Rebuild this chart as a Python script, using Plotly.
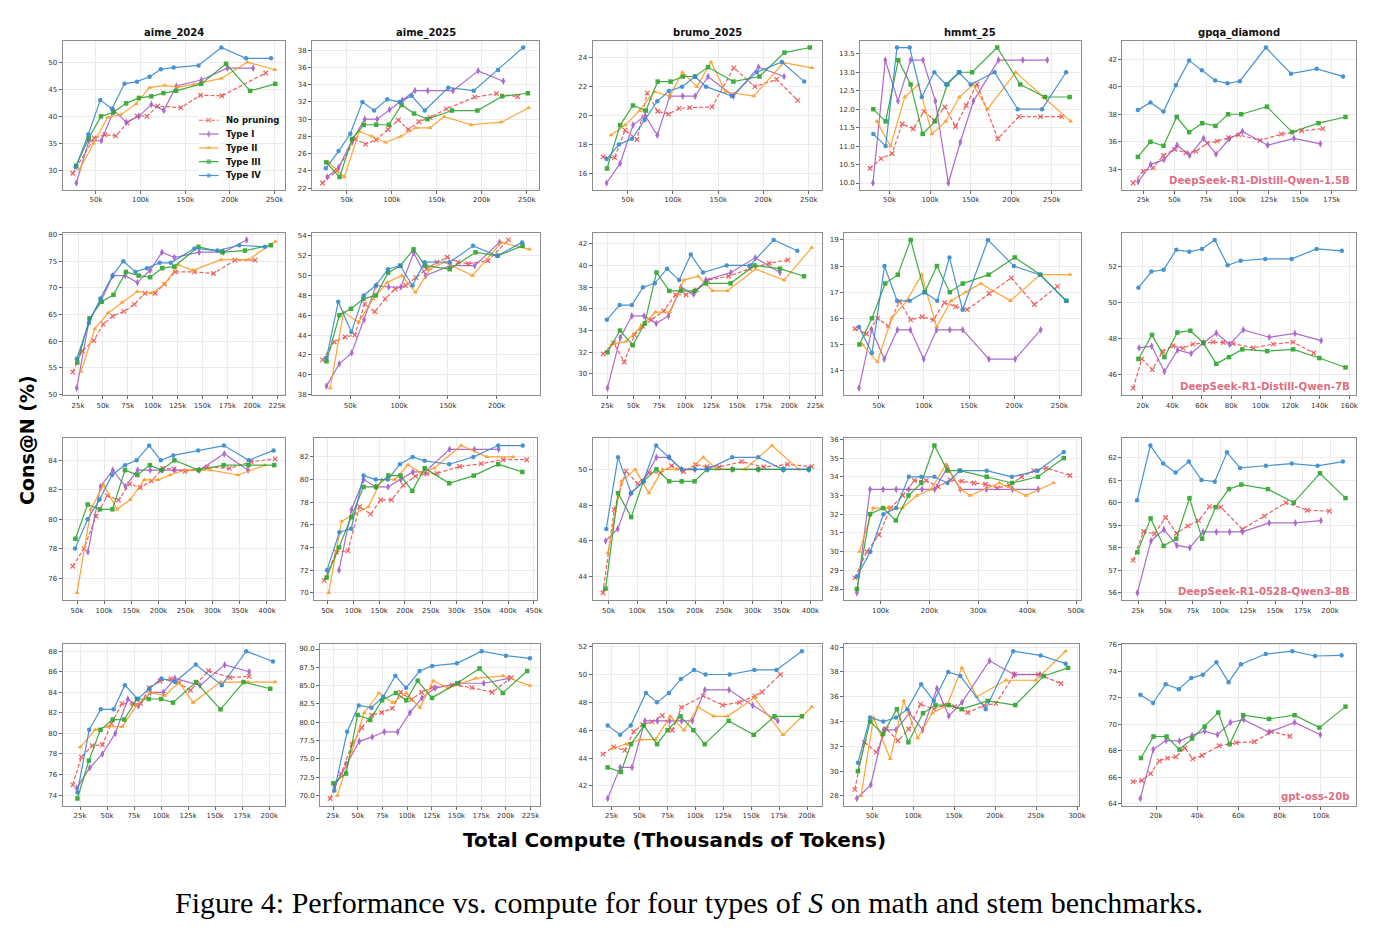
import plotly.graph_objects as go

SERIES = ["No pruning", "Type I", "Type II", "Type III", "Type IV"]
COLORS = {"No pruning": "#ef4f4f", "Type I": "#a45cc8", "Type II": "#ff9a1f",
          "Type III": "#2ca52c", "Type IV": "#3589cf"}
TITLES = ["aime_2024", "aime_2025", "brumo_2025", "hmmt_25", "gpqa_diamond"]
MODELS = ["DeepSeek-R1-Distill-Qwen-1.5B", "DeepSeek-R1-Distill-Qwen-7B",
          "DeepSeek-R1-0528-Qwen3-8B", "gpt-oss-20b"]

# ---------------- Row 1: DeepSeek-R1-Distill-Qwen-1.5B ----------------
R1_AIME24 = {
    "No pruning": ([24, 48, 60, 72, 85, 96, 107, 119, 145, 167, 191, 240],
                   [29.5, 36.0, 36.6, 36.4, 38.8, 40.1, 40.0, 41.9, 41.6, 43.9, 43.8, 48.0]),
    "Type I": ([28, 42, 56, 70, 84, 98, 112, 126, 140, 168, 197, 226],
               [27.7, 35.5, 35.5, 41.1, 38.9, 40.0, 42.2, 41.1, 45.6, 46.7, 48.9, 48.9]),
    "Type II": ([31.5, 47.4, 63, 77.8, 94.8, 110, 126.7, 141.5, 159.6, 190.4, 219.6, 250.4],
                [30.2, 35.0, 39.8, 40.3, 42.3, 45.3, 45.7, 45.4, 45.9, 47.0, 50.0, 48.6]),
    "Type III": ([27.8, 41.9, 55.6, 69.3, 83.7, 98.1, 111.9, 125.6, 139.6, 167.8, 195.6, 222.6, 250.7],
                 [30.9, 36.0, 40.0, 40.7, 42.4, 43.4, 43.7, 44.3, 44.7, 46.0, 49.7, 44.7, 46.0]),
    "Type IV": ([27.4, 41.5, 54.8, 67.8, 81.9, 95.9, 110, 122.6, 137, 164.8, 190.4, 218, 246],
                [30.6, 36.7, 43.0, 41.4, 46.0, 46.4, 47.3, 48.7, 49.0, 49.4, 52.7, 50.7, 50.7]),
}
R1_AIME25 = {
    "No pruning": ([22.8, 38.8, 59.3, 70.5, 82.5, 95.9, 107.1, 118.3, 130.2, 142.5, 160.8, 192.2, 216.4, 240],
                   [22.6, 24.0, 27.7, 27.1, 27.6, 28.8, 29.9, 28.8, 29.7, 30.2, 31.2, 32.55, 32.95, 32.6]),
    "Type I": ([28, 40.7, 55.6, 69.8, 83.6, 97.4, 111.6, 125.7, 139.9, 167.9, 195.9, 223.9],
               [23.3, 24.4, 27.5, 30.0, 30.0, 31.1, 32.2, 33.3, 33.3, 33.3, 35.6, 34.4]),
    "Type II": ([29.5, 47, 63.8, 78, 92.9, 109.7, 126.5, 142.2, 158.2, 188, 221.6, 252],
                [25.0, 23.3, 28.6, 28.0, 27.3, 28.0, 29.0, 29.0, 30.3, 29.35, 29.65, 31.3]),
    "Type III": ([26.9, 41.8, 55.6, 68.7, 82.5, 96.6, 110.8, 124.6, 139.5, 166.8, 195.1, 222.8, 251.1],
                 [25.0, 23.3, 27.7, 29.35, 29.35, 29.35, 31.65, 30.65, 30.0, 31.0, 31.0, 32.65, 33.0]),
    "Type IV": ([26.5, 40.7, 53.7, 67.2, 80.2, 94.8, 108.6, 122, 136.6, 162.7, 191, 218, 246],
                [24.3, 26.3, 28.3, 32.0, 31.0, 32.3, 32.0, 32.7, 31.0, 33.65, 33.3, 35.7, 38.3]),
}
R1_BRUMO = {
    "No pruning": ([22.7, 35.5, 47.1, 60.2, 71.5, 83.1, 95.1, 106.7, 118.4, 143.1, 167.1, 190.4, 214.5, 237.8],
                   [17.15, 17.1, 19.0, 18.35, 21.55, 20.3, 20.1, 20.5, 20.55, 20.6, 23.3, 22.0, 22.5, 21.05]),
    "Type I": ([26.7, 41.6, 55.8, 69.3, 82.7, 96.5, 110.7, 124.5, 138.7, 166.7, 194.4, 222.7],
               [15.35, 16.7, 19.35, 20.0, 18.65, 21.35, 21.35, 21.35, 22.7, 21.35, 23.35, 22.7]),
    "Type II": ([31.5, 47.1, 63.1, 79.5, 96.5, 110.4, 126.4, 142, 158, 189.3, 222, 253.3],
                [18.65, 19.35, 20.35, 21.65, 21.35, 23.0, 22.0, 23.7, 21.65, 21.35, 23.65, 23.3]),
    "Type III": ([27.1, 41.6, 55.8, 70, 83.1, 97.3, 111, 124.5, 138.7, 166.7, 195.5, 223.1, 251.1],
                 [16.35, 19.35, 20.7, 20.35, 22.35, 22.35, 22.7, 22.7, 23.35, 22.35, 22.7, 24.35, 24.7]),
    "Type IV": ([26.7, 40.2, 54.7, 68.5, 82.7, 95.5, 110, 124.2, 136.5, 164.9, 192.5, 220.2, 244.9],
                [17.0, 18.0, 18.4, 19.7, 21.0, 21.7, 22.0, 22.7, 22.0, 21.35, 23.0, 23.7, 22.35]),
}
R1_HMMT = {
    "No pruning": ([26, 39.6, 53.2, 65.6, 79.3, 92.5, 105.3, 118.2, 131.4, 144.6, 157.8, 183.5, 209.6, 236, 262.4],
                   [10.4, 10.66, 10.8, 11.6, 11.47, 11.94, 11.7, 12.06, 11.53, 12.1, 12.68, 11.2, 11.8, 11.8, 11.8]),
    "Type I": ([29.6, 44.8, 60.4, 76, 91.3, 106.5, 122.5, 137.3, 153.4, 184.3, 214.3, 244.4],
               [10.0, 13.33, 12.22, 13.33, 13.33, 12.22, 10.0, 11.11, 12.22, 13.33, 13.33, 13.33]),
    "Type II": ([34.4, 51.2, 68.8, 85.7, 102.4, 119.3, 136.1, 153, 170.6, 205.5, 239.6, 273.3],
                [11.67, 11.0, 12.33, 12.67, 11.33, 11.67, 12.33, 12.67, 12.0, 13.0, 12.33, 11.67]),
    "Type III": ([30, 45.2, 60.8, 76, 90.9, 106.1, 121.3, 136.1, 151.8, 182.7, 211.1, 241.6, 272],
                 [12.0, 11.67, 13.33, 12.67, 11.33, 11.67, 12.67, 13.0, 13.0, 13.67, 12.67, 12.33, 12.33]),
    "Type IV": ([30, 45.2, 59.2, 74.8, 89.7, 105.2, 119.7, 135.4, 150, 179.5, 208, 238, 267.6],
                [11.33, 11.0, 13.67, 13.67, 12.33, 13.0, 12.67, 13.0, 12.67, 13.0, 12.0, 12.0, 13.0]),
}
R1_GPQA = {
    "No pruning": ([17, 25, 33, 41, 50, 59, 67, 76, 84, 93, 101, 118, 135, 151, 168],
                   [33.0, 33.85, 34.1, 35.0, 35.45, 35.2, 35.3, 35.9, 36.05, 36.3, 36.5, 36.1, 36.55, 36.8, 36.95]),
    "Type I": ([21, 31, 41.5, 52, 62, 73, 83, 93.5, 104, 124, 145, 166],
               [33.1, 34.35, 34.7, 35.75, 35.0, 36.25, 35.1, 36.2, 36.75, 35.75, 36.25, 35.85]),
    "Type III": ([20.8, 30.8, 41.2, 51.7, 61.6, 72, 82.5, 92.6, 103, 123.5, 143.5, 164.5, 186],
                 [34.9, 36.0, 35.7, 37.8, 36.7, 37.35, 37.15, 38.0, 38.0, 38.55, 36.7, 37.35, 37.8]),
    "Type IV": ([20.8, 30.8, 41.2, 51, 61.6, 71.7, 82.3, 92.1, 101.9, 122.6, 142.6, 163.1, 184],
                [38.3, 38.85, 38.2, 40.1, 41.9, 41.2, 40.45, 40.25, 40.4, 42.85, 40.95, 41.3, 40.75]),
}

# ---------------- Row 2: DeepSeek-R1-Distill-Qwen-7B ----------------
R2_AIME24 = {
    "No pruning": ([19.7, 29.3, 40.8, 50.3, 59.9, 71.1, 81.6, 92.2, 102.4, 111.6, 122.5, 141.6, 161, 182.7, 202.8],
                   [54.2, 58.2, 60.1, 63.2, 64.7, 65.6, 66.9, 69.0, 69.0, 70.7, 73.0, 73.0, 72.7, 75.2, 75.2]),
    "Type I": ([23.7, 36.2, 48.4, 59.9, 72.4, 84.6, 97.4, 109.3, 121.8, 146.5, 170.9, 194.3],
               [51.2, 64.0, 67.7, 72.3, 72.3, 71.0, 73.3, 76.7, 75.7, 76.7, 76.7, 79.0]),
    "Type II": ([28, 41.8, 55.3, 69.2, 84.3, 98.8, 112, 125.8, 140.3, 168.6, 196, 223],
                [54.3, 62.3, 65.3, 67.3, 69.3, 69.0, 70.7, 74.3, 73.3, 75.3, 75.3, 78.7]),
    "Type III": ([24.3, 36.6, 48.7, 60.6, 73.1, 85.9, 97.4, 109.6, 121.5, 145.9, 169.9, 192.6, 218.6],
                 [56.0, 64.3, 67.4, 68.7, 73.0, 72.3, 72.0, 73.7, 74.0, 77.7, 76.7, 77.0, 78.0]),
    "Type IV": ([23.7, 35.9, 47.4, 59.6, 70.5, 82.7, 94.1, 106.9, 118.1, 141.9, 164.9, 187, 212.7],
                [56.7, 63.4, 68.0, 72.3, 75.0, 73.0, 73.7, 74.7, 74.7, 77.4, 77.0, 78.0, 77.7]),
}
R2_AIME25 = {
    "No pruning": ([21.5, 33.5, 44.8, 54.5, 64.8, 75.1, 85.7, 96, 106.7, 117.3, 128, 138.7, 149.3, 160.3, 170.9, 190.9, 212.2],
                   [41.5, 43.3, 43.8, 44.0, 47.15, 46.35, 47.65, 48.65, 49.0, 49.8, 50.65, 51.35, 51.85, 51.35, 51.2, 51.5, 53.6]),
    "Type I": ([25.6, 38.7, 51.4, 64.1, 76.5, 89.2, 101.9, 114.9, 127.3, 152.7, 177.5, 202.9],
               [38.85, 41.1, 42.2, 45.55, 49.0, 48.85, 48.85, 52.3, 50.0, 51.0, 51.0, 53.35]),
    "Type II": ([29.4, 43.1, 58.6, 73.4, 87.8, 102.7, 116.8, 131.6, 146.4, 175.3, 204.8, 233.7],
                [38.65, 46.3, 45.3, 47.65, 49.3, 50.0, 48.3, 50.65, 51.35, 50.0, 53.35, 52.65]),
    "Type III": ([25.6, 38.7, 50.7, 63.4, 76.1, 88.8, 101.4, 114.8, 126.8, 151.9, 178.4, 201, 226.5],
                 [41.35, 46.0, 46.65, 47.65, 48.0, 50.3, 51.0, 52.65, 51.0, 50.65, 52.35, 52.0, 53.0]),
    "Type IV": ([25.6, 37.6, 51, 63.7, 76.1, 88.5, 101, 113.7, 126.1, 151.9, 175.9, 200.7, 226.1],
                [41.7, 47.35, 44.3, 48.0, 49.0, 50.65, 51.0, 49.0, 51.35, 51.35, 53.0, 52.0, 53.35]),
}
R2_BRUMO = {
    "No pruning": ([21, 31.3, 41.4, 51.2, 59, 67.6, 79.3, 90.7, 100.8, 110.9, 121.3, 141.6, 161.8, 180.7, 198.4],
                   [31.85, 32.85, 31.1, 33.6, 34.4, 35.0, 35.8, 37.3, 37.3, 37.75, 38.65, 39.0, 39.7, 40.2, 40.5]),
    "Type I": ([25.3, 37.6, 48.7, 60.4, 72.1, 83.8, 95.8, 108.1, 119.8, 143.8, 167.2, 190.9],
               [28.7, 33.35, 35.35, 35.35, 34.65, 35.35, 38.0, 37.35, 38.65, 39.35, 40.7, 39.35]),
    "Type II": ([29.1, 43, 57.5, 71.4, 85, 98.6, 112.5, 126.4, 140.3, 167.4, 194.9, 221.5],
                [32.7, 33.0, 34.35, 35.7, 35.7, 38.65, 39.0, 37.65, 37.65, 39.65, 38.65, 41.65]),
    "Type III": ([25.3, 37.3, 49.6, 61, 72.4, 84.7, 96.1, 109, 119.8, 143.5, 166.5, 190.9, 214],
                 [32.0, 34.0, 32.65, 34.65, 39.35, 37.65, 37.65, 37.65, 38.35, 38.35, 40.0, 39.7, 39.0]),
    "Type IV": ([24.7, 37, 48.7, 59.4, 70.8, 82.5, 94.2, 105.3, 117, 139.7, 162.1, 184.9, 207.6],
                [35.0, 36.35, 36.35, 38.0, 38.35, 39.7, 38.65, 41.0, 39.35, 40.0, 40.0, 42.35, 41.35]),
}
R2_HMMT = {
    "No pruning": ([23.6, 36.4, 48.9, 60.5, 73, 85.4, 98.2, 110.5, 122.7, 135.1, 147.7, 172.2, 196.7, 222.2, 247.9],
                   [15.6, 15.4, 16.0, 15.7, 16.65, 15.94, 16.06, 15.94, 16.6, 16.45, 16.33, 16.95, 17.55, 16.53, 17.22]),
    "Type I": ([28.2, 42.2, 56.1, 70.7, 85.1, 99.8, 114.1, 128.7, 143, 172, 201, 229.3],
               [13.33, 15.56, 14.44, 15.56, 15.56, 14.44, 15.56, 15.56, 15.56, 14.44, 14.44, 15.56]),
    "Type II": ([31.9, 48.5, 64.3, 81, 97.5, 114, 130.2, 146.4, 163, 195.8, 228.9, 261.7],
                [15.0, 14.33, 16.0, 16.67, 17.67, 15.67, 16.67, 17.0, 17.33, 16.67, 17.67, 17.67]),
    "Type III": ([28.6, 42.5, 57.2, 71.1, 85.4, 100.9, 114.4, 128.7, 143, 171.6, 200.6, 228.9, 257.9],
                 [15.0, 16.0, 17.33, 17.67, 19.0, 17.0, 18.0, 17.0, 17.33, 17.67, 18.33, 17.67, 16.67]),
    "Type IV": ([28.2, 42.5, 56.4, 70.3, 84.3, 100.5, 114.8, 128.3, 142.8, 170.9, 199.6, 228.2, 257.2],
                [15.67, 14.67, 18.0, 16.67, 16.67, 17.0, 16.67, 18.33, 16.33, 19.0, 18.0, 17.67, 16.67]),
}
R2_GPQA = {
    "No pruning": ([13.5, 19.5, 26.5, 33.5, 40.5, 47.3, 54.1, 60.9, 67.7, 74.7, 81.2, 95, 108.5, 121.9, 135.9],
                   [45.26, 46.87, 46.28, 47.28, 47.6, 47.47, 47.69, 47.76, 47.8, 47.78, 47.72, 47.48, 47.69, 47.8, 47.2]),
    "Type I": ([17.5, 26.1, 34.7, 43.7, 52.8, 61.3, 69.9, 78.9, 88.2, 105.8, 123.2, 141],
               [47.48, 47.58, 46.17, 47.37, 47.17, 47.77, 48.3, 47.67, 48.48, 48.07, 48.28, 47.88]),
    "Type III": ([17.1, 26.3, 34.7, 43.5, 52.3, 61.1, 69.9, 78.5, 87.5, 104.4, 122, 139.8, 157.5],
                 [46.87, 48.2, 46.97, 48.33, 48.43, 47.76, 46.6, 46.97, 47.4, 47.3, 47.4, 46.92, 46.4]),
    "Type IV": ([17.1, 25.9, 34.2, 42.8, 51.6, 60.2, 68.8, 77.6, 86.4, 103.1, 121, 137.9, 155],
                [50.8, 51.7, 51.8, 52.9, 52.8, 52.95, 53.45, 52.05, 52.3, 52.4, 52.4, 52.95, 52.85]),
}

# ---------------- Row 3: DeepSeek-R1-0528-Qwen3-8B ----------------
R3_AIME24 = {
    "No pruning": ([42.1, 62.8, 84.8, 106.1, 126.2, 147, 166.5, 187.2, 208, 228.7, 248.8, 289.6, 330.5, 370.7, 415.2],
                   [76.8, 78.0, 80.2, 81.6, 81.3, 82.4, 82.15, 82.6, 83.45, 83.4, 83.25, 83.55, 83.45, 83.9, 84.1]),
    "Type I": ([70.1, 93.3, 115.9, 139, 161.6, 184.8, 206.7, 229.3, 275, 321.3, 365.2],
               [77.78, 82.22, 83.33, 82.22, 83.33, 83.33, 83.33, 83.33, 83.33, 84.44, 83.33]),
    "Type II": ([50, 75.6, 98.8, 123.8, 148.2, 173.8, 199.4, 221.3, 248.1, 296.3, 346.3, 396.3],
                [75.0, 80.67, 82.33, 80.67, 81.33, 82.67, 82.67, 83.0, 83.33, 83.33, 83.0, 83.67]),
    "Type III": ([47, 69.5, 92.1, 115.2, 138.4, 161, 184.1, 205.5, 229.3, 273.8, 320.1, 365.9, 413.4],
                 [78.67, 81.0, 80.67, 80.67, 83.33, 83.0, 83.67, 83.33, 84.0, 83.33, 83.67, 83.67, 83.67]),
    "Type IV": ([46.3, 69.5, 91.5, 114.6, 138.4, 159.8, 183, 204.3, 227.4, 273.2, 320.7, 366.5, 412.2],
                [78.0, 80.0, 81.33, 83.0, 83.67, 84.0, 85.0, 84.0, 84.33, 84.67, 85.0, 84.0, 84.67]),
}
R3_AIME25 = {
    "No pruning": ([43.5, 66.9, 89.1, 111.9, 133.4, 152.9, 173.8, 196.6, 220, 242.2, 262.4, 306, 348.4, 390.1, 436.3],
                   [71.1, 73.6, 73.7, 77.6, 76.95, 78.2, 78.2, 79.5, 80.3, 80.5, 80.55, 81.15, 81.4, 81.75, 81.75]),
    "Type I": ([72.1, 96.3, 119.7, 143.8, 167.3, 191.9, 215.4, 238.9, 286.5, 334.7, 381.6],
               [72.0, 77.35, 80.0, 79.35, 79.35, 80.0, 80.67, 80.67, 82.67, 82.67, 82.67]),
    "Type II": ([52, 77, 103, 129, 155, 180, 206, 231, 257, 309, 359, 410],
                [70.0, 76.3, 77.0, 77.6, 80.0, 80.0, 81.3, 80.6, 81.0, 83.0, 82.0, 82.0]),
    "Type III": ([48, 72.1, 96.3, 119.7, 143.8, 167.9, 191.4, 214.2, 238.3, 285.9, 333.4, 380.9, 427.8],
                 [71.35, 74.0, 76.67, 79.35, 79.35, 80.35, 80.35, 79.0, 81.0, 79.67, 80.35, 81.35, 80.67]),
    "Type IV": ([48.7, 72.8, 95.6, 119.7, 143.5, 166.6, 190.2, 214.8, 238.3, 285.9, 332.7, 380.9, 428.5],
                [72.0, 75.35, 75.65, 80.35, 80.0, 80.0, 81.35, 82.0, 81.65, 81.35, 82.0, 83.0, 83.0]),
}
R3_BRUMO = {
    "No pruning": ([40.4, 59.8, 80.3, 100.6, 120.6, 140, 159.3, 180.4, 200.9, 220.8, 241.9, 281.2, 319.3, 360.3, 402.4],
                   [43.1, 47.75, 49.9, 49.2, 49.8, 49.8, 50.2, 49.87, 50.27, 50.15, 50.13, 50.43, 50.13, 50.28, 50.15]),
    "Type I": ([44.9, 66, 88.2, 110.3, 133, 155.2, 176.3, 199.7, 221.9, 264.5, 310, 353.3, 397.2],
               [46.0, 46.67, 48.67, 49.33, 50.67, 50.67, 50.0, 50.0, 50.0, 50.0, 50.0, 50.0, 50.0]),
    "Type II": ([48.9, 72.2, 96.1, 120, 143.7, 167.6, 190.9, 214.3, 238.8, 286, 333.3, 380],
                [45.33, 49.33, 50.0, 48.67, 50.0, 50.0, 50.0, 50.67, 50.0, 50.0, 51.33, 50.0]),
    "Type III": ([44.9, 66.5, 89.3, 110.3, 133, 155.2, 176.9, 199.1, 220.7, 265.1, 309.5, 353.3, 397.2],
                 [43.33, 48.67, 47.33, 49.33, 50.0, 49.33, 49.33, 49.33, 50.0, 50.0, 50.0, 50.0, 50.0]),
    "Type IV": ([46, 66.5, 89.3, 110.3, 132.5, 154.7, 176.9, 199.7, 221.3, 264.5, 309.5, 352.2, 397.2],
                [46.67, 50.67, 48.67, 49.33, 51.33, 50.67, 50.0, 50.0, 50.0, 50.67, 50.67, 50.0, 50.0]),
}
R3_HMMT = {
    "No pruning": ([47.2, 71.8, 96.5, 120.4, 145.1, 169, 193, 217.6, 242.3, 266.2, 290.8, 314.8, 338.7, 363.4, 388, 413.4, 438.7, 487.3],
                   [28.6, 30.0, 30.9, 32.33, 33.0, 33.8, 33.8, 33.47, 33.83, 33.77, 33.67, 33.6, 33.4, 33.55, 34.0, 34.33, 34.47, 34.07]),
    "Type I": ([51.4, 78.2, 104.9, 131.7, 157.7, 184.5, 210.6, 236.6, 262.7, 316.2, 369.7, 422.5],
               [27.8, 33.33, 33.33, 33.33, 33.33, 33.33, 33.33, 34.5, 33.33, 33.33, 33.33, 33.33]),
    "Type II": ([56.3, 84.5, 114.8, 144.4, 173.9, 203.5, 233.8, 263.4, 283.1, 343, 397.2, 453.5],
                [30.0, 32.33, 32.33, 32.33, 33.0, 33.33, 34.67, 33.33, 33.0, 33.67, 33.0, 33.67]),
    "Type III": ([51.4, 78.2, 104.9, 131, 157, 183.1, 209.9, 236.6, 262, 316.9, 369, 421.8, 474.6],
                 [28.0, 32.0, 32.33, 31.67, 33.0, 33.67, 35.67, 34.33, 34.33, 34.0, 33.67, 34.0, 35.0]),
    "Type IV": ([51.4, 78.9, 105.6, 131.7, 157.7, 183.1, 209.9, 236.6, 262, 316.9, 368.3, 421.1, 474.6],
                [28.67, 30.0, 32.0, 32.33, 34.0, 34.0, 34.0, 33.67, 34.33, 34.33, 34.0, 34.33, 35.33]),
}
R3_GPQA = {
    "No pruning": ([20.5, 30.1, 40.1, 50.1, 60.1, 70.4, 80.1, 90.1, 100.4, 120, 140, 159.7, 179.4, 199.4],
                   [57.44, 58.72, 58.62, 59.34, 58.64, 58.97, 59.2, 59.82, 59.8, 58.82, 59.4, 60.0, 59.66, 59.62]),
    "Type I": ([24.4, 36.8, 48.6, 60.4, 72.2, 84.3, 96.4, 108.5, 120.3, 144.5, 168.4, 191.7],
               [56.0, 58.3, 58.8, 58.1, 58.0, 58.7, 58.7, 58.7, 58.7, 59.1, 59.1, 59.2]),
    "Type III": ([24.4, 36.5, 48.3, 59.8, 71.9, 83.4, 95.8, 107.9, 119.1, 143.3, 166.9, 190.8, 214.1],
                 [57.8, 59.3, 58.08, 58.4, 60.2, 58.4, 59.8, 60.6, 60.8, 60.6, 60.0, 61.3, 60.2]),
    "Type IV": ([24.1, 36.2, 47.9, 59.2, 71.3, 82.8, 94.9, 106.1, 117.9, 141.5, 165.1, 188.7, 211.7],
                [60.1, 62.53, 61.73, 61.33, 61.82, 61.0, 60.93, 62.23, 61.54, 61.63, 61.73, 61.63, 61.82]),
}

# ---------------- Row 4: gpt-oss-20b ----------------
R4_AIME24 = {
    "No pruning": ([18.3, 26.2, 36.3, 45.7, 54, 63.7, 73.8, 81.1, 89, 99.1, 109.1, 116.5, 127.1, 143.9, 163.7, 181.4],
                   [75.0, 77.7, 78.8, 78.9, 80.95, 82.9, 82.87, 82.9, 84.45, 85.1, 85.3, 84.9, 84.2, 86.1, 85.45, 85.55]),
    "Type I": ([22, 34.1, 45.7, 57.6, 69.2, 78.9, 90.2, 102.1, 112.8, 135.9, 158.8, 181.4],
               [74.67, 76.67, 78.0, 80.0, 83.33, 82.67, 84.0, 84.0, 85.35, 84.67, 86.67, 86.0]),
    "Type II": ([25.3, 39, 50.6, 64, 77.1, 90.2, 103.4, 116.5, 129.6, 154.9, 180.2, 205.5],
                [78.67, 80.35, 80.67, 80.67, 82.67, 84.0, 83.67, 85.0, 83.0, 85.0, 85.0, 85.0]),
    "Type III": ([22.6, 33.2, 43.9, 55.2, 65.9, 77.7, 88.7, 100, 111, 132.3, 154.9, 176.2, 200.9],
                 [73.67, 77.35, 80.35, 81.35, 81.35, 83.35, 83.35, 83.35, 83.0, 85.0, 82.35, 85.0, 84.35]),
    "Type IV": ([22.6, 33.5, 44.2, 56.1, 66.5, 78.4, 89, 100.3, 112.8, 132, 156.1, 178.7, 203.4],
                [74.26, 80.35, 82.35, 82.35, 84.7, 83.35, 84.35, 85.35, 85.0, 86.7, 84.7, 88.0, 87.0]),
}
R4_AIME25 = {
    "No pruning": ([22, 33.1, 44.2, 54, 64.1, 74.2, 85, 93.5, 104.3, 114.7, 125.5, 145.4, 165.6, 186.2, 205.7],
                   [69.6, 73.0, 77.0, 79.25, 81.0, 81.33, 81.9, 84.1, 83.1, 84.1, 84.77, 85.1, 84.73, 84.1, 86.1]),
    "Type I": ([26.3, 38.8, 51.6, 64.7, 76.9, 90.4, 102.9, 115, 128.5, 153.1, 177.7, 203],
               [71.2, 74.3, 77.4, 78.0, 78.7, 78.7, 81.33, 83.33, 84.67, 85.33, 85.33, 86.0]),
    "Type II": ([29.3, 43.5, 56.6, 71.5, 85.3, 99.2, 113, 126.5, 141.4, 169.7, 197.3, 224.4],
                [70.0, 76.0, 81.3, 84.0, 82.67, 84.0, 82.0, 85.67, 84.67, 86.0, 86.33, 85.0]),
    "Type III": ([25.3, 38.1, 49.9, 62.7, 74.6, 88.7, 99.2, 110.7, 125.2, 150.8, 173.4, 197, 221.6],
                 [71.67, 73.0, 81.0, 80.33, 83.0, 84.0, 83.0, 85.67, 83.33, 85.33, 87.35, 84.0, 87.0]),
    "Type IV": ([26.3, 39.2, 51, 63.8, 75.9, 88.1, 98.9, 112.7, 125.5, 150.5, 175.5, 200.1, 224.4],
                [70.68, 78.7, 82.3, 82.0, 83.5, 86.35, 84.7, 87.0, 87.7, 88.05, 89.7, 89.1, 88.73]),
}
R4_BRUMO = {
    "No pruning": ([17.3, 26.8, 36.8, 44.8, 52.7, 61, 70.4, 79.3, 87.5, 107, 124.4, 139.5, 153.4, 159.6, 176.1],
                   [44.28, 44.8, 44.55, 45.9, 46.4, 46.6, 47.07, 46.0, 47.64, 48.47, 47.8, 48.0, 48.47, 48.73, 50.0]),
    "Type I": ([21.5, 32.7, 43.3, 54.8, 66, 76.9, 87.6, 97.3, 108.5, 130.1, 151.3, 173.7],
               [41.1, 43.33, 43.33, 46.67, 46.67, 46.67, 46.67, 46.67, 48.9, 48.9, 47.78, 46.67]),
    "Type II": ([25, 37.7, 50.6, 64.2, 77.5, 89.9, 102.3, 116.4, 128.8, 152.8, 178.5, 204.2],
                [44.67, 45.0, 45.33, 45.33, 47.0, 46.0, 47.67, 47.0, 47.0, 48.33, 45.67, 47.67]),
    "Type III": ([21.5, 33.3, 42.4, 53.9, 65.7, 75.2, 86.7, 98.2, 108.3, 129.8, 152.2, 170.8, 195.3],
                 [43.33, 43.0, 45.0, 46.33, 45.0, 46.0, 47.0, 46.0, 45.0, 46.67, 45.67, 47.0, 47.0]),
    "Type IV": ([21.5, 32.7, 42.1, 55.7, 65.7, 76.3, 87, 98.8, 109.1, 130.7, 152.8, 172.6, 195.3],
                [46.33, 45.67, 46.33, 48.67, 48.0, 48.67, 49.67, 50.33, 50.0, 50.0, 50.33, 50.33, 51.67]),
}
R4_HMMT = {
    "No pruning": ([28.8, 40.7, 55.1, 67.4, 81.4, 94.6, 109, 125.5, 137.8, 150.6, 166.7, 186.6, 201, 223.5, 252.8, 280.4],
                   [28.53, 32.33, 31.53, 33.4, 32.45, 33.4, 35.4, 35.0, 35.35, 35.2, 34.73, 35.3, 35.47, 37.8, 37.8, 37.07]),
    "Type I": ([31.3, 48.3, 64, 79.3, 95.4, 111.6, 129, 143.5, 159.6, 193.1, 223.3, 254.7],
               [27.8, 28.9, 33.33, 33.33, 34.67, 33.33, 36.67, 34.45, 35.55, 38.9, 37.78, 37.78]),
    "Type II": ([36.4, 51.7, 72, 88.6, 105.5, 123.4, 141.6, 159.4, 177.7, 213.3, 249.4, 285.9],
                [28.0, 34.33, 31.0, 35.67, 32.67, 34.67, 35.33, 38.33, 36.0, 37.33, 37.33, 39.67]),
    "Type III": ([32.6, 47.5, 63.2, 80.2, 94.2, 112, 127.3, 143.5, 159.2, 191, 224.6, 259.3, 289],
                 [30.0, 34.0, 33.0, 35.0, 32.33, 34.67, 35.33, 35.33, 35.0, 35.67, 35.33, 37.67, 38.33]),
    "Type IV": ([32.6, 47.5, 63.6, 79.3, 92.9, 109.8, 125.3, 142.8, 157.6, 188.5, 222, 255.5, 286.1],
                [30.67, 34.33, 34.0, 34.33, 35.0, 37.0, 35.67, 38.0, 37.67, 35.0, 39.67, 39.33, 38.67]),
}
R4_GPQA = {
    "No pruning": ([8.9, 13.1, 17.4, 21.6, 25.6, 29.6, 34, 37.8, 42.3, 50.6, 59, 67.7, 76, 84.9],
                   [65.66, 65.74, 66.26, 67.23, 67.43, 67.53, 68.2, 67.38, 67.63, 68.37, 68.6, 68.67, 69.44, 69.09]),
    "Type I": ([12.4, 18.7, 24.9, 31.4, 37.5, 43.6, 49.8, 56.1, 62.5, 74.8, 87.2, 99.7],
               [64.38, 68.1, 68.77, 68.72, 69.15, 69.48, 69.2, 70.13, 70.34, 69.39, 70.13, 69.2]),
    "Type III": ([12.7, 18.8, 25.1, 31.4, 37.5, 43.6, 50.2, 55.7, 62.3, 74.8, 87.2, 99.2, 111.9],
                 [67.44, 69.07, 69.07, 68.08, 68.91, 69.82, 70.88, 68.48, 70.68, 70.4, 70.68, 69.74, 71.33]),
    "Type IV": ([12.4, 18.6, 24.7, 31.1, 37.1, 42.7, 49.3, 55.2, 61.2, 73.2, 86.1, 97.1, 110],
                [72.22, 71.6, 73.03, 72.65, 73.49, 73.75, 74.68, 73.18, 74.53, 75.31, 75.52, 75.16, 75.21]),
}

PANELS = [
    [R1_AIME24, R1_AIME25, R1_BRUMO, R1_HMMT, R1_GPQA],
    [R2_AIME24, R2_AIME25, R2_BRUMO, R2_HMMT, R2_GPQA],
    [R3_AIME24, R3_AIME25, R3_BRUMO, R3_HMMT, R3_GPQA],
    [R4_AIME24, R4_AIME25, R4_BRUMO, R4_HMMT, R4_GPQA],
]
XTICKS = [
    [[50, 100, 150, 200, 250], [50, 100, 150, 200, 250], [50, 100, 150, 200, 250],
     [50, 100, 150, 200, 250], [25, 50, 75, 100, 125, 150, 175]],
    [[25, 50, 75, 100, 125, 150, 175, 200, 225], [50, 100, 150, 200],
     [25, 50, 75, 100, 125, 150, 175, 200, 225], [50, 100, 150, 200, 250],
     [20, 40, 60, 80, 100, 120, 140, 160]],
    [[50, 100, 150, 200, 250, 300, 350, 400], [50, 100, 150, 200, 250, 300, 350, 400, 450],
     [50, 100, 150, 200, 250, 300, 350, 400], [100, 200, 300, 400, 500],
     [25, 50, 75, 100, 125, 150, 175, 200]],
    [[25, 50, 75, 100, 125, 150, 175, 200], [25, 50, 75, 100, 125, 150, 175, 200, 225],
     [25, 50, 75, 100, 125, 150, 175, 200], [50, 100, 150, 200, 250, 300],
     [20, 40, 60, 80, 100]],
]
YTICKS = [
    [[30, 35, 40, 45, 50], [22, 24, 26, 28, 30, 32, 34, 36, 38], [16, 18, 20, 22, 24],
     [10.0, 10.5, 11.0, 11.5, 12.0, 12.5, 13.0, 13.5], [34, 36, 38, 40, 42]],
    [[50, 55, 60, 65, 70, 75, 80], [38, 40, 42, 44, 46, 48, 50, 52, 54],
     [28, 30, 32, 34, 36, 38, 40, 42], [14, 15, 16, 17, 18, 19], [46, 48, 50, 52]],
    [[76, 78, 80, 82, 84], [70, 72, 74, 76, 78, 80, 82], [44, 46, 48, 50],
     [28, 29, 30, 31, 32, 33, 34, 35, 36], [56, 57, 58, 59, 60, 61, 62]],
    [[74, 76, 78, 80, 82, 84, 86, 88], [70.0, 72.5, 75.0, 77.5, 80.0, 82.5, 85.0, 87.5, 90.0],
     [42, 44, 46, 48, 50, 52], [28, 30, 32, 34, 36, 38, 40], [64, 66, 68, 70, 72, 74, 76]],
]
YFMT = [["d", "d", "d", ".1f", "d"], ["d"] * 5, ["d"] * 5, ["d", ".1f", "d", "d", "d"]]

# layout geometry (pixels)
W, H = 1388, 937
ROWS_Y = [(38, 188), (231, 395), (438, 601), (645, 808)]
COLS_X = [
    [(63, 287), (314, 542), (596, 827), (865, 1087), (1129, 1364)],
    [(63, 287), (314, 543), (596, 827), (849, 1087), (1129, 1364)],
    [(63, 287), (316, 540), (596, 827), (849, 1087), (1129, 1364)],
    [(63, 287), (322, 543), (596, 827), (849, 1085), (1129, 1364)],
]

STYLE = {
    "No pruning": dict(dash="4px,2px", symbol="x-thin", size=4.5),
    "Type I": dict(dash="solid", symbol="diamond-tall", size=5.5),
    "Type II": dict(dash="solid", symbol="triangle-up", size=4.5),
    "Type III": dict(dash="solid", symbol="square", size=4.5),
    "Type IV": dict(dash="solid", symbol="circle", size=4.5),
}

FONT = "DejaVu Sans"
fig = go.Figure()
layout = {}
annotations = []


def make_marker(name, size):
    st = STYLE[name]
    col = COLORS[name]
    m = dict(symbol=st["symbol"], size=size, color=col)
    m["line"] = dict(width=1.2, color=col) if st["symbol"] == "x-thin" else dict(width=0)
    return m


for r in range(4):
    for c in range(5):
        idx = r * 5 + c + 1
        xn = "x" if idx == 1 else f"x{idx}"
        yn = "y" if idx == 1 else f"y{idx}"
        panel = PANELS[r][c]
        allx, ally = [], []
        for name in SERIES:
            if name not in panel:
                continue
            xs, ys = panel[name]
            allx += xs
            ally += ys
            fig.add_trace(go.Scatter(
                x=xs, y=ys, mode="lines+markers", name=name,
                line=dict(color=COLORS[name], width=1.2, dash=STYLE[name]["dash"]),
                marker=make_marker(name, STYLE[name]["size"]), opacity=0.9,
                showlegend=False, xaxis=xn, yaxis=yn, hoverinfo="skip"))
        x0, x1 = min(allx), max(allx)
        y0, y1 = min(ally), max(ally)
        px, py = 0.05 * (x1 - x0), 0.05 * (y1 - y0)
        cx0, cx1 = COLS_X[r][c]
        ry0, ry1 = ROWS_Y[r]
        common = dict(showline=True, mirror=True, linecolor="#8c8c8c", linewidth=1,
                      showgrid=True, gridcolor="#ebebeb", gridwidth=1, zeroline=False,
                      ticks="outside", ticklen=3, tickwidth=1, tickcolor="#666", tickangle=0,
                      tickfont=dict(family=FONT, size=7, color="#333"))
        layout["xaxis" if idx == 1 else f"xaxis{idx}"] = dict(
            domain=[cx0 / W, cx1 / W], anchor=yn, range=[x0 - px, x1 + px],
            tickmode="array", tickvals=XTICKS[r][c],
            ticktext=[f"{v}k" for v in XTICKS[r][c]], **common)
        fmt = YFMT[r][c]
        ytext = [(f"{v:.1f}" if fmt == ".1f" else f"{int(v)}") for v in YTICKS[r][c]]
        layout["yaxis" if idx == 1 else f"yaxis{idx}"] = dict(
            domain=[1 - ry1 / H, 1 - ry0 / H], anchor=xn, range=[y0 - py, y1 + py],
            tickmode="array", tickvals=YTICKS[r][c], ticktext=ytext, **common)
        if r == 0:
            annotations.append(dict(
                text=f"<b>{TITLES[c]}</b>", x=(cx0 + cx1) / 2 / W, y=1 - 30 / H,
                xref="paper", yref="paper", showarrow=False, xanchor="center", yanchor="middle",
                font=dict(family=FONT, size=10, color="#111")))
    cx0, cx1 = COLS_X[r][4]
    ry0, ry1 = ROWS_Y[r]
    annotations.append(dict(
        text=f"<b>{MODELS[r]}</b>", x=(cx1 - 4) / W, y=1 - (ry1 - 9) / H,
        xref="paper", yref="paper", showarrow=False, xanchor="right", yanchor="middle",
        font=dict(family=FONT, size=10.2, color="#dd6f86")))

# ---- legend (drawn in its own small axis inside the first panel) ----
LEG_TOP, LEG_STEP = 118, 13.9
leg_n = len(SERIES)
dom_top, dom_bot = 112, 180
v_top = (dom_top - LEG_TOP) / LEG_STEP
v_bot = (dom_bot - LEG_TOP) / LEG_STEP
for i, name in enumerate(SERIES):
    fig.add_trace(go.Scatter(
        x=[0, 0.5, 1], y=[i, i, i], mode="lines+markers",
        line=dict(color=COLORS[name], width=1.2, dash=STYLE[name]["dash"]),
        marker=make_marker(name, [0, STYLE[name]["size"], 0]), opacity=0.9,
        showlegend=False, xaxis="x21", yaxis="y21", hoverinfo="skip"))
    annotations.append(dict(
        text=f"<b>{name}</b>", x=225.5 / W, y=1 - (LEG_TOP + LEG_STEP * i) / H,
        xref="paper", yref="paper", showarrow=False, xanchor="left", yanchor="middle",
        font=dict(family=FONT, size=8.5, color="#111")))
layout["xaxis21"] = dict(domain=[200 / W, 220 / W], anchor="y21", range=[0, 1], visible=False)
layout["yaxis21"] = dict(domain=[1 - dom_bot / H, 1 - dom_top / H], anchor="x21",
                         range=[v_bot, v_top], visible=False)

annotations.append(dict(
    text="<b>Cons@N (%)</b>", x=27 / W, y=1 - 440 / H, xref="paper", yref="paper",
    showarrow=False, textangle=-90, xanchor="center", yanchor="middle",
    font=dict(family=FONT, size=19, color="#000")))
annotations.append(dict(
    text="<b>Total Compute (Thousands of Tokens)</b>", x=678 / W, y=1 - 842 / H,
    xref="paper", yref="paper", showarrow=False, xanchor="center", yanchor="middle",
    font=dict(family=FONT, size=20, color="#000")))
annotations.append(dict(
    text="Figure 4: Performance vs. compute for four types of <i>S</i> on math and stem benchmarks.",
    x=693 / W, y=1 - 905 / H, xref="paper", yref="paper", showarrow=False,
    xanchor="center", yanchor="middle",
    font=dict(family="Liberation Serif", size=30, color="#000")))

fig.update_layout(
    width=W, height=H, margin=dict(l=0, r=0, t=0, b=0),
    paper_bgcolor="white", plot_bgcolor="white",
    annotations=annotations, showlegend=False,
    **layout)

fig.write_html("out.html")
